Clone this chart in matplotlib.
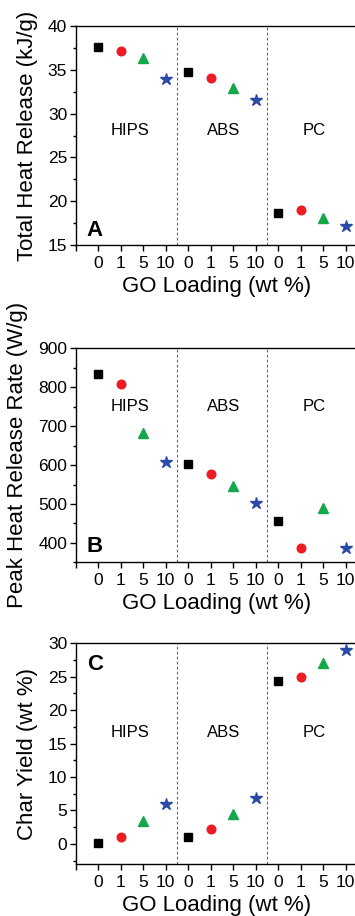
import numpy as np
import matplotlib
matplotlib.use("Agg")
import matplotlib.pyplot as plt
from matplotlib.ticker import MultipleLocator

plt.rcParams['font.family'] = ['Liberation Sans', 'DejaVu Sans']

# data: 3 polymers x 4 GO loadings (0, 1, 5, 10 wt %)
polymers = ["HIPS", "ABS", "PC"]
loadings = ["0", "1", "5", "10"]

thr = [[37.6, 37.15, 36.3, 34.0],     # total heat release (kJ/g)
       [34.8, 34.1, 32.9, 31.6],
       [18.7, 19.0, 18.1, 17.2]]
phrr = [[835, 808, 682, 607],         # peak heat release rate (W/g)
        [604, 576, 545, 503],
        [457, 387, 489, 386]]
char = [[0.2, 1.1, 3.4, 5.9],         # char yield (wt %)
        [1.0, 2.2, 4.5, 6.8],
        [24.4, 25.0, 27.0, 29.0]]

markers = ['s', 'o', '^', '*']
colors = ['black', '#ed1c24', '#14a84a', '#2b4aa6']
msizes = [5.5, 6.2, 7.5, 9.0]

fig = plt.figure(figsize=(3.55, 9.16), dpi=100)

panels = [
    dict(data=thr, ylim=(15, 40), major=5, minor=2.5, ylabel="Total Heat Release (kJ/g)",
         letter="A", letter_y=16.7, text_y=28.1, pos=[0.2127, 0.7325, 0.7923, 0.2391]),
    dict(data=phrr, ylim=(350, 900), major=100, minor=50, ylabel="Peak Heat Release Rate (W/g)",
         letter="B", letter_y=390, text_y=750, pos=[0.2127, 0.3861, 0.7923, 0.2336]),
    dict(data=char, ylim=(-3, 30), major=5, minor=2.5, ylabel="Char Yield (wt %)",
         letter="C", letter_y=26.8, text_y=16.6, pos=[0.2127, 0.0568, 0.7923, 0.2409]),
]
text_x = [2.4, 6.6, 10.6]

for p in panels:
    ax = fig.add_axes(p['pos'])
    for i, poly in enumerate(polymers):
        for j in range(4):
            x = i * 4 + j + 1
            ax.plot(x, p['data'][i][j], marker=markers[j], color=colors[j],
                    markersize=msizes[j], linestyle='none')
        ax.text(text_x[i], p['text_y'], poly, ha='center', va='center', fontsize=12)
    for xv in [4.5, 8.5]:
        ax.axvline(xv, color='#666666', linestyle=(0, (2.5, 2)), linewidth=0.8)

    ax.set_xlim(0, 12.5)
    ax.set_ylim(*p['ylim'])
    ax.set_xticks(np.arange(0, 13))
    ax.set_xticklabels([""] + loadings * 3)
    ax.yaxis.set_major_locator(MultipleLocator(p['major']))
    ax.yaxis.set_minor_locator(MultipleLocator(p['minor']))
    ax.tick_params(axis='both', which='major', direction='out', length=4, width=1,
                   labelsize=12.5, pad=2)
    ax.tick_params(axis='x', which='major', pad=4)
    ax.tick_params(axis='y', which='minor', direction='out', length=2.5, width=1)
    ax.spines['right'].set_visible(False)
    for s in ['left', 'bottom', 'top']:
        ax.spines[s].set_linewidth(1.0)
    ax.set_xlabel("GO Loading (wt %)", fontsize=16, labelpad=3.5)
    ax.set_ylabel(p['ylabel'], fontsize=16, labelpad=7)
    ax.text(0.5, p['letter_y'], p['letter'], fontsize=16, fontweight='bold',
            ha='left', va='center')

fig.savefig("out.png", dpi=100)
